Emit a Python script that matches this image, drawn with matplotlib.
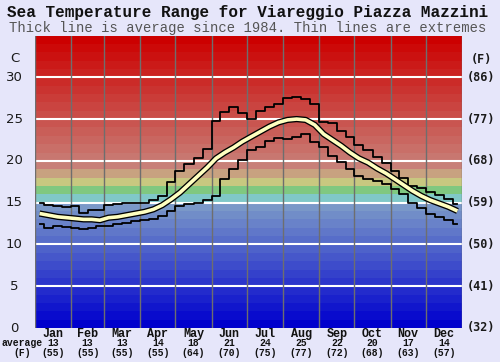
import matplotlib
matplotlib.use('Agg')
import matplotlib.pyplot as plt
import matplotlib.transforms as mtransforms
import numpy as np

# ---- data ----
months = ['Jan', 'Feb', 'Mar', 'Apr', 'May', 'Jun', 'Jul', 'Aug', 'Sep', 'Oct', 'Nov', 'Dec']
month_days = [31, 28, 31, 30, 31, 30, 31, 31, 30, 31, 30, 31]
avg_c = [13, 13, 13, 14, 18, 21, 24, 25, 22, 20, 17, 14]
avg_f = [55, 55, 55, 55, 64, 70, 75, 77, 72, 68, 63, 57]

# four readings per month (quarter-month steps), deg C
avg_temp = [13.7, 13.5, 13.3, 13.2,  13.1, 13.0, 13.0, 12.9,  13.2, 13.3, 13.5, 13.7,
            13.9, 14.2, 14.7, 15.4,  16.2, 17.2, 18.2, 19.2,  20.3, 21.0, 21.6, 22.3,
            22.9, 23.5, 24.1, 24.6,  24.9, 25.0, 24.9, 24.3,  23.2, 22.5, 21.8, 21.0,
            20.3, 19.8, 19.1, 18.5,  17.8, 17.1, 16.4, 15.8,  15.3, 14.9, 14.5, 14.0]
max_temp = [14.9, 14.7, 14.6, 14.5,  14.6, 13.8, 14.1, 14.1,  14.7, 14.8, 14.9, 15.0,
            15.0, 15.3, 15.8, 17.5,  18.8, 19.6, 20.4, 21.4,  24.8, 25.8, 26.4, 25.7,
            25.0, 26.0, 26.5, 26.8,  27.5, 27.6, 27.4, 26.8,  24.6, 24.5, 23.6, 22.8,
            21.9, 21.3, 20.5, 19.8,  18.8, 18.0, 17.0, 16.7,  16.3, 15.9, 15.4, 14.8]
min_temp = [12.4, 12.0, 12.2, 12.1,  12.0, 11.9, 12.0, 12.2,  12.2, 12.4, 12.6, 12.8,
            12.9, 13.1, 13.4, 14.0,  14.6, 14.8, 15.0, 15.3,  15.8, 17.8, 19.0, 20.1,
            21.3, 21.6, 22.4, 22.7,  22.6, 22.9, 23.2, 22.3,  21.6, 20.6, 19.9, 19.0,
            18.2, 17.8, 17.6, 17.2,  16.6, 16.0, 15.0, 14.3,  13.6, 13.3, 12.9, 12.4]

c_ticks = [0, 5, 10, 15, 20, 25, 30]
f_ticks = ['(32)', '(41)', '(50)', '(59)', '(68)', '(77)', '(86)']

W, H = 500, 362
fig = plt.figure(figsize=(W / 100, H / 100), dpi=100)
fig.patch.set_facecolor('#e6e6fa')

# plot area in pixels: x 35..462, y 35.5..328
ax = fig.add_axes([35 / W, 1 - 328 / H, 427 / W, (328 - 35.5) / H])
ax.set_xlim(0, 365)
ax.set_ylim(0, 35)
ax.axis('off')

# colour bands, one per degree
def band_color(t):
    anchors = [(0, (0, 0, 205)), (14, (122, 152, 200)), (15, (128, 200, 200)),
               (16, (128, 200, 128)), (17, (200, 200, 128)), (18, (200, 162, 128)),
               (19, (200, 128, 120)), (34, (204, 0, 0))]
    for (t0, c0), (t1, c1) in zip(anchors[:-1], anchors[1:]):
        if t0 <= t <= t1:
            f = 0 if t1 == t0 else (t - t0) / (t1 - t0)
            return tuple((a + (b - a) * f) / 255 for a, b in zip(c0, c1))
    return tuple(v / 255 for v in anchors[-1][1])

for i in range(35):
    ax.axhspan(i, i + 1, color=band_color(i), lw=0, zorder=0)

for t in c_ticks[1:]:
    ax.axhline(t, color='white', lw=1.5, zorder=1)

edges = np.concatenate([[0], np.cumsum(month_days)])
for e in edges:
    ax.axvline(e, color='#6e6e6e', lw=1, zorder=2)

# x positions of the quarter-month readings
xs = []
for m in range(12):
    for k in range(4):
        xs.append(edges[m] + (k + 0.5) * month_days[m] / 4)
xs = np.array(xs)

ax.plot(xs, max_temp, color='black', lw=1.3, drawstyle='steps-mid', zorder=3)
ax.plot(xs, min_temp, color='black', lw=1.3, drawstyle='steps-mid', zorder=3)
ax.plot(xs, avg_temp, color='black', lw=4.5, solid_capstyle='butt', zorder=4)
ax.plot(xs, avg_temp, color='#ffffc0', lw=2.6, solid_capstyle='butt', zorder=5)

# titles
mono = 'Liberation Mono'
fig.text(248 / W, 1 - 13 / H, 'Sea Temperature Range for Viareggio Piazza Mazzini',
         ha='center', va='center', fontsize=11.5, fontweight='bold', family=mono, color='#111111')
fig.text(248 / W, 1 - 28 / H, 'Thick line is average since 1984. Thin lines are extremes',
         ha='center', va='center', fontsize=10, family=mono, color='#555555')

# axis labels
ytr = ax.get_yaxis_transform()
for t, f in zip(c_ticks, f_ticks):
    ax.text(-0.049, t, str(t), transform=ytr, ha='center', va='center',
            fontsize=9.5, color='#1a1a1a', family='DejaVu Sans')
    ax.text(1.044, t, f, transform=ytr, ha='center', va='center',
            fontsize=8.5, fontweight='bold', color='#1a1a1a', family='DejaVu Sans Mono')
fig.text(15 / W, 1 - 59 / H, 'C', ha='center', va='center', fontsize=9.5,
         color='#1a1a1a', family='DejaVu Sans')
fig.text(481 / W, 1 - 59 / H, '(F)', ha='center', va='center', fontsize=8.5,
         fontweight='bold', color='#1a1a1a', family='DejaVu Sans Mono')

# month labels and averages
btr = mtransforms.blended_transform_factory(ax.transData, fig.transFigure)
for m in range(12):
    mid = edges[m] + month_days[m] / 2
    ax.text(mid, 1 - 334 / H, months[m], transform=btr, ha='center', va='center',
            fontsize=8.5, fontweight='bold', family=mono, color='#111111')
    ax.text(mid, 1 - 343.5 / H, str(avg_c[m]), transform=btr, ha='center', va='center',
            fontsize=7, fontweight='bold', family=mono, color='#111111')
    ax.text(mid, 1 - 352.5 / H, '(%d)' % avg_f[m], transform=btr, ha='center', va='center',
            fontsize=7, fontweight='bold', family=mono, color='#111111')
fig.text(22 / W, 1 - 343.5 / H, 'average', ha='center', va='center', fontsize=7,
         fontweight='bold', family=mono, color='#111111')
fig.text(22 / W, 1 - 352.5 / H, '(F)', ha='center', va='center', fontsize=7,
         fontweight='bold', family=mono, color='#111111')

fig.savefig('out.png', dpi=100, facecolor=fig.get_facecolor())
